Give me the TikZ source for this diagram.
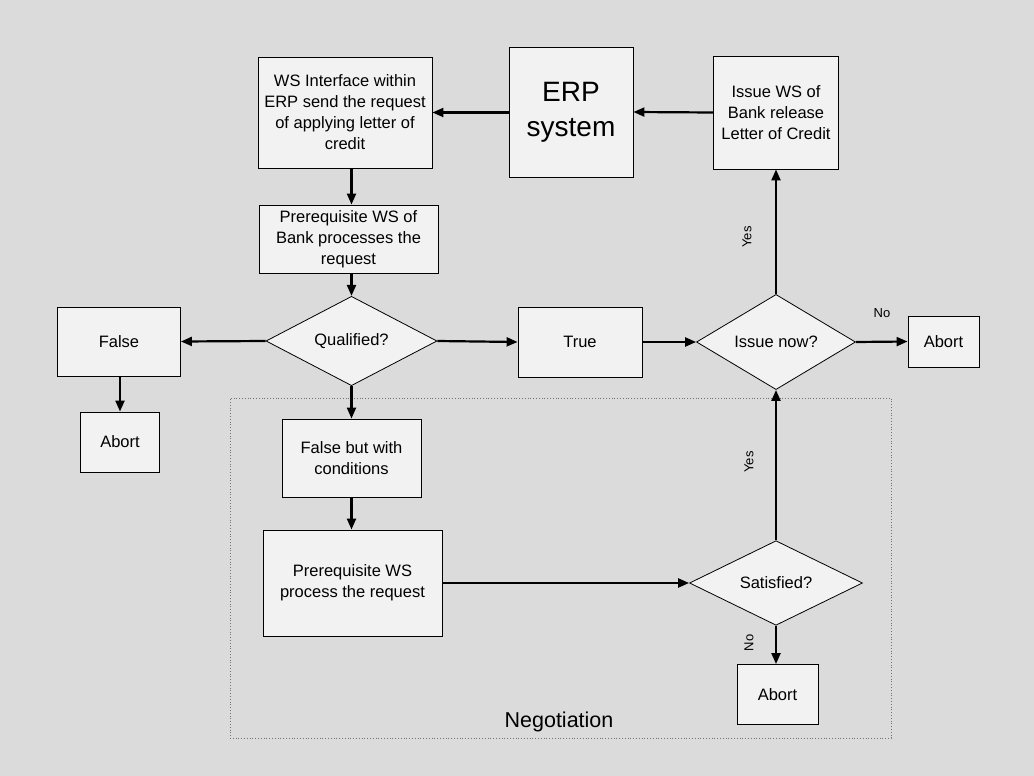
\documentclass[tikz,border=0pt]{standalone}
\usepackage{fontspec}
\setmainfont{Liberation Sans}
\usetikzlibrary{shapes.geometric,arrows.meta}
\definecolor{bgfill}{gray}{0.86}
\definecolor{boxfill}{gray}{0.95}
\definecolor{negline}{gray}{0.45}
\begin{document}
\begin{tikzpicture}[x=1pt,y=-1pt,
  box/.style={draw=black, line width=0.9pt, fill=boxfill, inner sep=0pt, align=center,
    font=\fontsize{16.5}{21}\selectfont},
  dec/.style={diamond, draw=black, line width=0.8pt, fill=boxfill, inner sep=0pt,
    font=\fontsize{16.5}{21}\selectfont},
  arr/.style={line width=2.2pt, -{Triangle[length=11pt,width=9pt]}},
  lbl/.style={inner sep=0pt, font=\fontsize{13}{15}\selectfont}
]
\useasboundingbox (0,0) rectangle (1034,776);
\fill[bgfill] (0,0) rectangle (1034,776);

% negotiation frame
\node[draw=negline, dotted, line width=0.8pt, minimum width=661pt, minimum height=340pt, inner sep=0pt]
  (neg) at (560.5,568) {};
\node[inner sep=0pt, font=\fontsize{21.5}{24}\selectfont] (negl) at (559,722) {Negotiation};

% top row
\node[box, minimum width=174pt, minimum height=111pt] (wsi) at (345,112.5)
  {WS Interface within\\ERP send the request\\of applying letter of\\credit};
\node[box, minimum width=124pt, minimum height=130pt, font=\fontsize{28}{35}\selectfont]
  (erp) at (571,112) {ERP\\system};
\node[box, minimum width=125pt, minimum height=113pt] (iss) at (776,112.5)
  {Issue WS of\\Bank release\\Letter of Credit};

\node[box, minimum width=179pt, minimum height=68pt] (bank) at (348.5,239)
  {Prerequisite WS of\\Bank processes the\\request};

% middle row
\node[dec, minimum width=171pt, minimum height=82pt] (qual) at (351.5,341) {Qualified?};
\node[box, minimum width=123pt, minimum height=69pt] (false) at (119,341.5) {False};
\node[box, minimum width=79pt, minimum height=60pt] (abl) at (120,442) {Abort};
\node[box, minimum width=124pt, minimum height=70pt] (true) at (580,342) {True};
\node[dec, minimum width=159pt, minimum height=78pt] (now) at (776,342) {Issue now?};
\node[box, minimum width=71pt, minimum height=51pt] (abr) at (943.5,341.5) {Abort};

% negotiation part
\node[box, minimum width=139pt, minimum height=78pt] (fbc) at (351.5,458)
  {False but with\\conditions};
\node[box, minimum width=179pt, minimum height=106pt] (pws) at (352.5,583)
  {Prerequisite WS\\process the request};
\node[dec, minimum width=173pt, minimum height=77pt] (sat) at (776,583) {Satisfied?};
\node[box, minimum width=81pt, minimum height=60pt] (abb) at (777.5,694.5) {Abort};

% connectors
\draw[arr] (iss.west) -- (erp.east);
\draw[arr] (erp.west |- wsi.east) -- (wsi.east);
\draw[arr] (wsi.south -| qual.north) -- (bank.north -| qual.north);
\draw[arr] (bank.south -| qual.north) -- (qual.north);
\draw[arr] (qual.west) -- (false.east);
\draw[arr] (qual.east) -- (true.west);
\draw[arr] (true.east) -- (now.west);
\draw[arr] (now.north) -- (iss.south);
\draw[arr] (now.east) -- (abr.west);
\draw[arr] (false.south -| abl.north) -- (abl.north);
\draw[arr] (qual.south) -- (fbc.north);
\draw[arr] (fbc.south) -- (pws.north -| fbc.south);
\draw[arr] (pws.east) -- (sat.west);
\draw[arr] (sat.north) -- (now.south);
\draw[arr] (sat.south) -- (abb.north -| sat.south);

% labels
\node[lbl, rotate=90] (y1) at (747,237) {Yes};
\node[lbl] (n1) at (882,313) {No};
\node[lbl, rotate=90] (y2) at (749,462) {Yes};
\node[lbl, rotate=90] (n2) at (749,643) {No};
\end{tikzpicture}
\end{document}
